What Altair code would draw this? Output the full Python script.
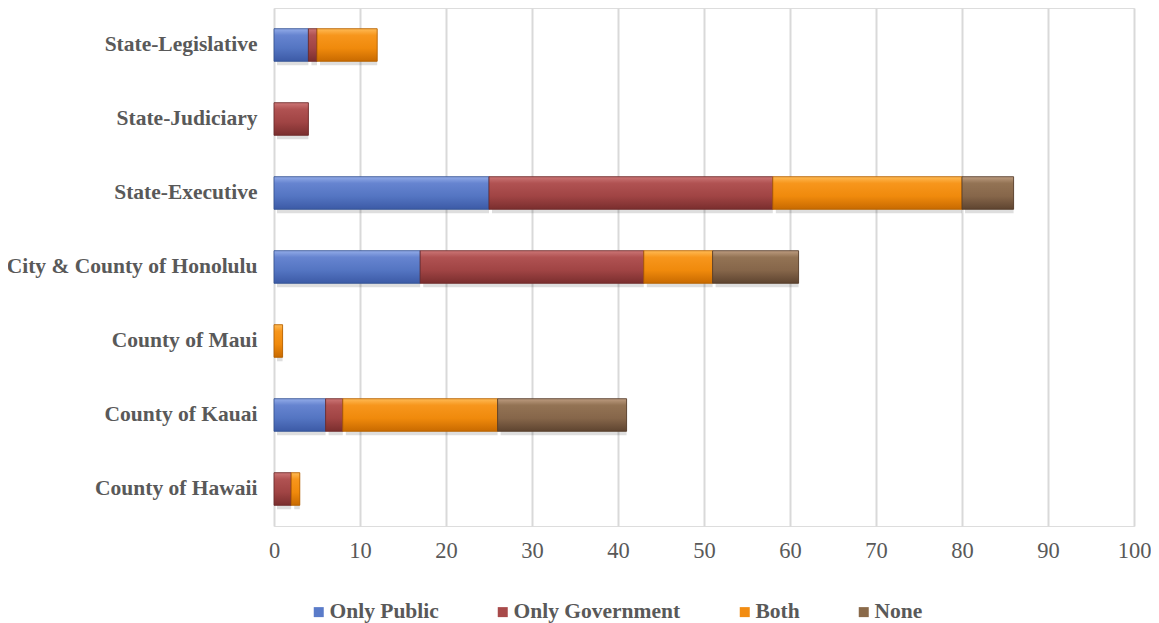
import altair as alt
import pandas as pd

categories = ["State-Legislative", "State-Judiciary", "State-Executive",
              "City & County of Honolulu", "County of Maui", "County of Kauai",
              "County of Hawaii"]
series = ["Only Public", "Only Government", "Both", "None"]
only_public = [4, 0, 25, 17, 0, 6, 0]
only_government = [1, 4, 33, 26, 0, 2, 2]
both = [7, 0, 22, 8, 1, 18, 1]
none_ = [0, 0, 6, 10, 0, 15, 0]
x_ticks = [0, 10, 20, 30, 40, 50, 60, 70, 80, 90, 100]

flat_colors = ["#5a7bc9", "#a84a4a", "#f28c12", "#8a6a4a"]
grad_colors = {
    "Only Public": ["#93ace8", "#6684d0", "#5475c2", "#3c5aa6"],
    "Only Government": ["#cc7676", "#b05252", "#a04444", "#7a2e2e"],
    "Both": ["#ffbb55", "#f7961c", "#f08a0c", "#c86a00"],
    "None": ["#bd9c80", "#937354", "#86664a", "#5e4430"],
}
stroke_colors = {"Only Public": "#34508f", "Only Government": "#6a2828",
                 "Both": "#b05e00", "None": "#503a28"}

rows = []
for vals, s, o in zip([only_public, only_government, both, none_], series, range(4)):
    for c, v in zip(categories, vals):
        if v > 0:
            rows.append({"cat": c, "series": s, "value": v, "order": o})
df = pd.DataFrame(rows)

FONT = "Liberation Serif"
GRAY = "#595959"

xscale = alt.Scale(domain=[0, 100])
xaxis = alt.Axis(values=x_ticks, title=None, domain=False, ticks=False,
                 grid=True, gridColor="#d9d9d9", gridWidth=2,
                 labelFont=FONT, labelFontSize=22.5, labelColor=GRAY,
                 labelPadding=13, labelFlush=False)
yenc = alt.Y("cat:N", sort=categories,
             scale=alt.Scale(paddingInner=0.56, paddingOuter=0.28),
             axis=alt.Axis(title=None, domain=False, ticks=False, grid=False,
                           labelFont=FONT, labelFontSize=21.5, labelFontWeight="bold",
                           labelColor=GRAY, labelPadding=17, labelLimit=400))

base = alt.Chart(df).transform_stack(
    stack="value", groupby=["cat"], as_=["x0", "x1"],
    sort=[alt.SortField("order", order="ascending")]
)

shadow = base.mark_bar(color="#000000", opacity=0.13, xOffset=3, yOffset=4).encode(
    x=alt.X("x0:Q", scale=xscale, axis=xaxis), x2="x1:Q", y=yenc
)

flat = base.mark_bar().encode(
    x=alt.X("x0:Q", scale=xscale, axis=xaxis), x2="x1:Q", y=yenc,
    color=alt.Color("series:N", sort=series,
                    scale=alt.Scale(domain=series, range=flat_colors),
                    legend=alt.Legend(title=None, orient="none", direction="horizontal",
                                      legendX=34, legendY=593, padding=0,
                                      symbolType="square", symbolSize=100,
                                      symbolStrokeWidth=0,
                                      labelFont=FONT, labelFontSize=21.5,
                                      labelFontWeight="bold", labelColor=GRAY,
                                      labelLimit=400,
                                      columnPadding=53, labelOffset=0))
)

layers = [shadow, flat]
for s in series:
    g = grad_colors[s]
    grad = alt.Gradient(
        gradient="linear", x1=0, x2=0, y1=0, y2=1,
        stops=[alt.GradientStop(color=g[0], offset=0),
               alt.GradientStop(color=g[1], offset=0.2),
               alt.GradientStop(color=g[2], offset=0.6),
               alt.GradientStop(color=g[3], offset=1)])
    layers.append(
        base.transform_filter(alt.datum.series == s)
        .mark_bar(color=grad, stroke=stroke_colors[s], strokeWidth=0.8)
        .encode(x=alt.X("x0:Q", scale=xscale, axis=xaxis), x2="x1:Q", y=yenc)
    )

chart = alt.layer(*layers).properties(
    width=860, height=518,
    padding={"left": 266, "top": 0, "right": 17, "bottom": 97},
    autosize=alt.AutoSizeParams(type="none"),
).configure_view(stroke=None).configure(background="white")

chart.save("out.html", embed_options={"renderer": "svg", "actions": False})
